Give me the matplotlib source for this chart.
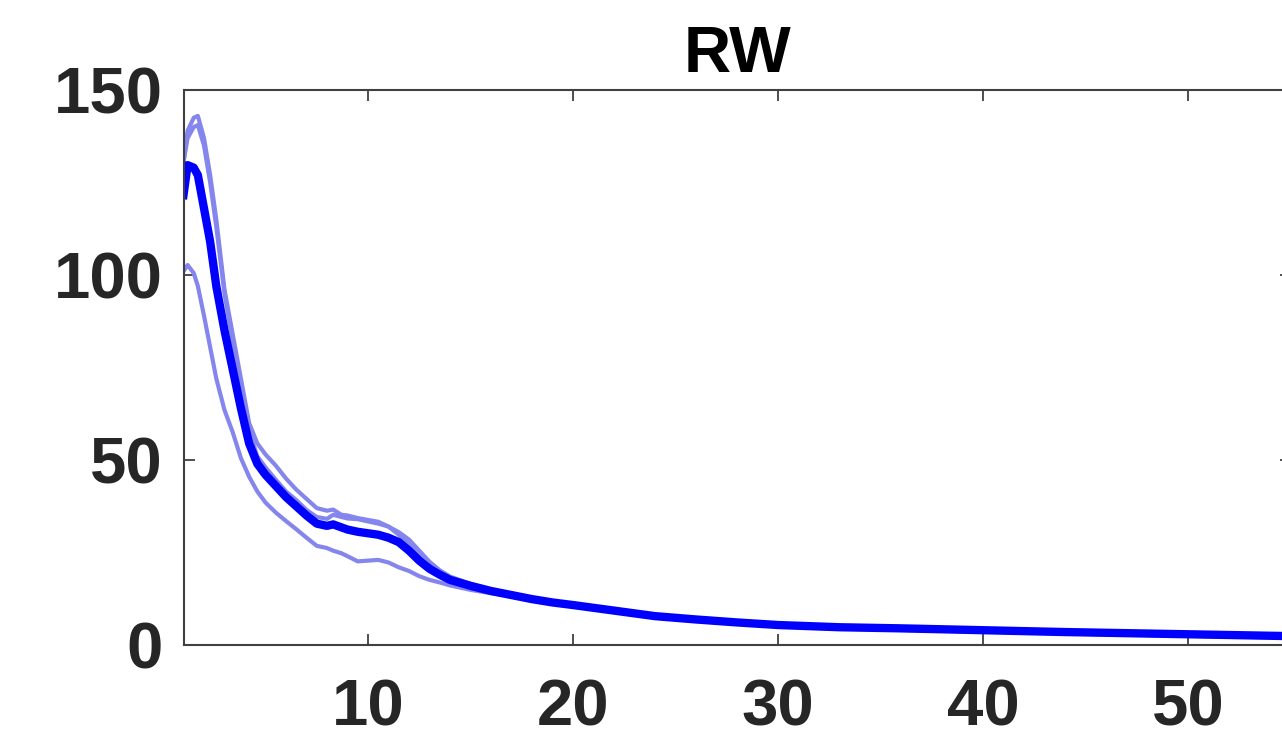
import numpy as np
import matplotlib
matplotlib.use('Agg')
import matplotlib.pyplot as plt

# sample positions (x) and the four traces
x = [1, 1.2, 1.5, 1.7, 2.0, 2.3, 2.6, 3.0, 3.4, 3.8, 4.2, 4.6, 5.0, 5.5, 6.0, 6.5,
     7.0, 7.5, 8.0, 8.3, 8.7, 9.0, 9.5, 10, 10.5, 11, 11.5, 12, 12.5, 13, 13.5, 14,
     15, 16, 17, 18, 19, 20, 22, 24, 26, 28, 30, 33, 36, 40, 44, 48, 52, 55]

run_a = [130.5, 139, 142.5, 143, 137, 127, 115, 96, 84, 72, 60, 54.5, 51.5, 48.5, 45, 42,
         39.5, 37, 36.3, 36.6, 35.2, 35.0, 34.3, 33.8, 33.3, 32, 29.8, 27, 24, 21.5, 19.8, 18.3,
         16.4, 14.9, 13.6, 12.5, 11.6, 10.8, 9.3, 7.9, 7.0, 6.3, 5.6, 5.0, 4.7, 4.3, 3.8, 3.3, 3.0, 2.7]

run_b = [130.5, 137, 140, 140.5, 135, 125, 113, 95, 82, 69.5, 58, 51, 48, 44.7, 41.5, 39.2,
         36.5, 34.6, 34.1, 35.2, 34.6, 34.2, 34.0, 33.4, 32.8, 32.0, 30.5, 28.5, 25.5, 22.5, 20.2, 18.5,
         16.5, 15.0, 13.7, 12.6, 11.7, 10.9, 9.4, 8.0, 7.1, 6.3, 5.6, 5.0, 4.7, 4.2, 3.7, 3.3, 2.9, 2.6]

run_c = [101, 102.7, 100.5, 97, 89, 80.5, 72, 63.5, 57.5, 50.5, 45.5, 41.5, 38.5, 35.8, 33.5, 31.3,
         29, 26.8, 26.2, 25.5, 24.8, 24, 22.6, 22.8, 23, 22.3, 21, 20, 18.6, 17.6, 16.9, 16.1,
         14.9, 14.0, 13.1, 12.1, 11.2, 10.4, 9.0, 7.5, 6.6, 5.8, 5.1, 4.5, 4.1, 3.6, 3.1, 2.7, 2.3, 2.0]

mean_run = [121.6, 129.7, 129, 127, 118, 109, 97, 85, 74.5, 64, 54.5, 49, 46, 43, 40, 37.5,
            35, 32.8, 32.2, 32.6, 31.8, 31.2, 30.6, 30.2, 29.8, 29.0, 27.8, 25.5, 22.8, 20.6, 19.0, 17.6,
            16.0, 14.6, 13.5, 12.4, 11.5, 10.8, 9.3, 7.8, 6.9, 6.1, 5.4, 4.8, 4.5, 4.0, 3.5, 3.1, 2.7, 2.4]

xticks = [10, 20, 30, 40, 50]
yticks = [0, 50, 100, 150]

plt.rcParams['font.family'] = ['Liberation Sans', 'DejaVu Sans']
plt.rcParams['font.weight'] = 'bold'

fig = plt.figure(figsize=(12.82, 7.51), dpi=100)
ax = fig.add_axes([183.5 / 1282, 106 / 751, 1107 / 1282, 555 / 751])

light = '#8585ee'
for run in (run_a, run_b, run_c):
    ax.plot(x, run, color=light, lw=3.0, solid_joinstyle='round')
ax.plot(x, mean_run, color='#0000ff', lw=6.0, solid_joinstyle='round')

ax.set_xlim(1, 55)
ax.set_ylim(0, 150)
ax.set_xticks(xticks)
ax.set_yticks(yticks)

txt = '#262626'
ax.tick_params(direction='in', top=True, right=True, length=8, width=1.3,
               color='#404040', labelsize=47, labelcolor=txt)
ax.tick_params(axis='x', pad=24)
ax.tick_params(axis='y', pad=15)
for lab in ax.get_xticklabels() + ax.get_yticklabels():
    lab.set_fontweight('bold')
for s in ax.spines.values():
    s.set_linewidth(1.5)
    s.set_color('#404040')

ax.set_title('RW', fontsize=47, fontweight='bold', color='black', pad=13)

fig.savefig('out.png', dpi=100)
